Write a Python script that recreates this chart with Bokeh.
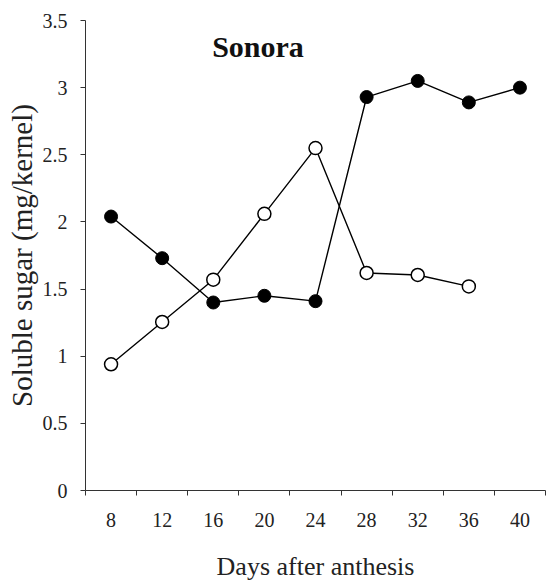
from bokeh.plotting import figure
from bokeh.models import FixedTicker, Range1d, Label, CustomJSTickFormatter
from bokeh.embed import file_html
from bokeh.resources import INLINE

# Data
days = [8, 12, 16, 20, 24, 28, 32, 36, 40]
filled_sugar = [2.04, 1.73, 1.40, 1.45, 1.41, 2.93, 3.05, 2.89, 3.00]
open_days = [8, 12, 16, 20, 24, 28, 32, 36]
open_sugar = [0.94, 1.255, 1.57, 2.06, 2.55, 1.62, 1.605, 1.52]
y_ticks = [0, 0.5, 1, 1.5, 2, 2.5, 3, 3.5]
title_text = "Sonora"

FONT = "Liberation Serif"

p = figure(width=549, height=583, output_backend="svg", toolbar_location=None,
           x_range=Range1d(6, 42), y_range=Range1d(0, 3.5),
           min_border_left=85, min_border_right=4, min_border_top=20, min_border_bottom=90)
p.outline_line_color = None
p.grid.visible = False
p.background_fill_color = "white"
p.border_fill_color = "white"

# x axis: labels at category centres, ticks at category boundaries
bounds = [d - 2 for d in days] + [days[-1] + 2]
p.xaxis.ticker = FixedTicker(ticks=days, minor_ticks=bounds)
p.xaxis.major_tick_out = 0
p.xaxis.major_tick_in = 0
p.xaxis.minor_tick_out = 5
p.xaxis.minor_tick_in = 0
p.xaxis.major_label_standoff = 17
p.xaxis.axis_label = "Days after anthesis"
p.xaxis.axis_label_standoff = 22

p.yaxis.ticker = FixedTicker(ticks=y_ticks, minor_ticks=[])
p.yaxis.formatter = CustomJSTickFormatter(code="return tick.toString();")
p.yaxis.major_tick_out = 5
p.yaxis.major_tick_in = 0
p.yaxis.minor_tick_out = 0
p.yaxis.major_label_standoff = 13
p.yaxis.axis_label = "Soluble sugar (mg/kernel)"
p.yaxis.axis_label_standoff = 2

for ax in (p.xaxis, p.yaxis):
    ax.axis_line_color = "#333333"
    ax.axis_line_width = 1
    ax.major_tick_line_color = "#333333"
    ax.minor_tick_line_color = "#333333"
    ax.major_label_text_font = FONT
    ax.major_label_text_font_size = "20px"
    ax.major_label_text_color = "#222222"
    ax.axis_label_text_font = FONT
    ax.axis_label_text_font_style = "normal"
    ax.axis_label_text_color = "#222222"
p.xaxis.axis_label_text_font_size = "26px"
p.yaxis.axis_label_text_font_size = "29px"

# series
p.line(open_days, open_sugar, line_color="black", line_width=1.4)
p.line(days, filled_sugar, line_color="black", line_width=1.4)
p.scatter(open_days, open_sugar, size=13, marker="circle",
          fill_color="white", line_color="black", line_width=1.5)
p.scatter(days, filled_sugar, size=13, marker="circle",
          fill_color="black", line_color="black", line_width=1)

p.add_layout(Label(x=19.5, y=3.31, text=title_text, text_font=FONT,
                   text_font_size="30px", text_font_style="bold",
                   text_align="center", text_baseline="alphabetic", text_color="#111111"))

open("out.html", "w").write(file_html(p, INLINE))
